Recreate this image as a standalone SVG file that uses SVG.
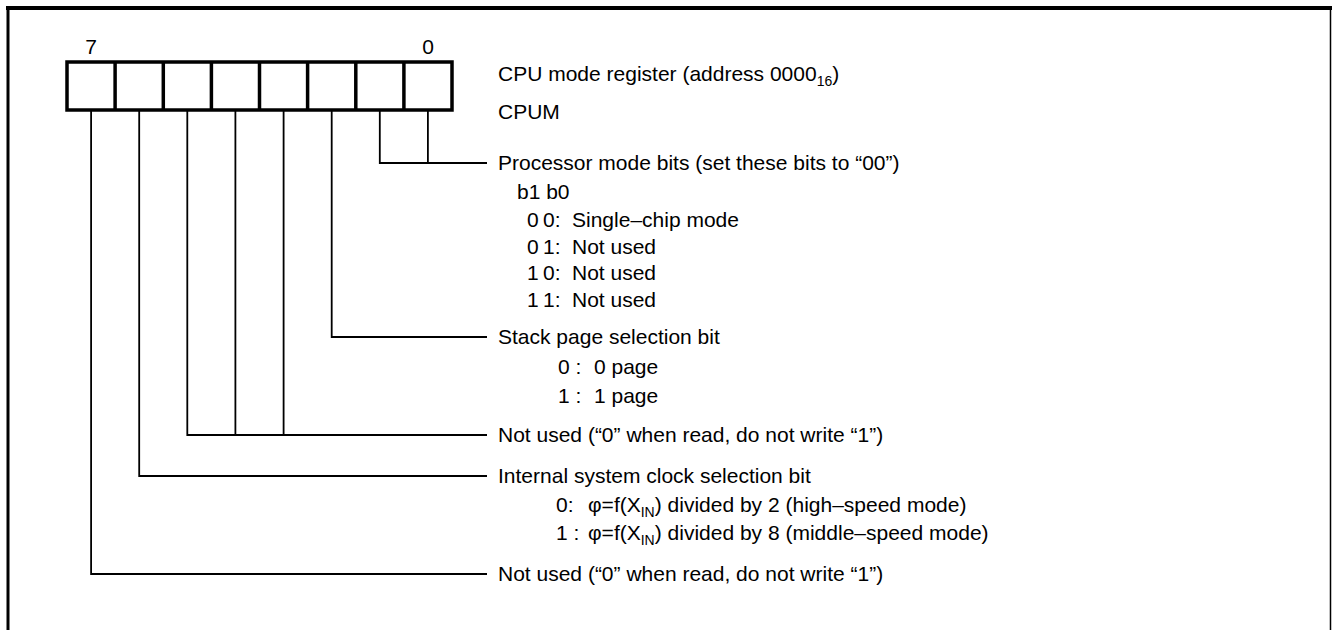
<svg xmlns="http://www.w3.org/2000/svg" width="1332" height="630" viewBox="0 0 1332 630">
<style>
.t{font-family:"Liberation Sans",Arial,sans-serif;font-size:21px;fill:#000}
.sub{font-size:14px}
.c{fill:none;stroke:#000;stroke-width:1.8}
.reg{fill:#fff;stroke:#000;stroke-width:3.5}
</style>
<rect width="1332" height="630" fill="#fff"/>
<g id="frame" fill="none" stroke="#000">
<line x1="6" y1="8" x2="1332" y2="8" stroke-width="4"/>
<line x1="8" y1="6" x2="8" y2="630" stroke-width="3"/>
<line x1="1330.5" y1="8" x2="1330.5" y2="630" stroke-width="1.5"/>
</g>
<g id="register">
<rect class="reg" x="67" y="62" width="385" height="48"/>
<g stroke="#000" stroke-width="3.5">
<line x1="115.1" y1="62" x2="115.1" y2="110"/>
<line x1="163.3" y1="62" x2="163.3" y2="110"/>
<line x1="211.4" y1="62" x2="211.4" y2="110"/>
<line x1="259.5" y1="62" x2="259.5" y2="110"/>
<line x1="307.6" y1="62" x2="307.6" y2="110"/>
<line x1="355.8" y1="62" x2="355.8" y2="110"/>
<line x1="403.9" y1="62" x2="403.9" y2="110"/>
</g>
<text class="t" x="91" y="54" text-anchor="middle">7</text>
<text class="t" x="428" y="54" text-anchor="middle">0</text>
</g>
<g id="title">
<text class="t" x="498" y="81">CPU mode register (address 0000<tspan class="sub" dy="5">16</tspan><tspan dy="-5">)</tspan></text>
<text class="t" x="498" y="119">CPUM</text>
</g>
<g id="connectors">
<polyline class="c" points="379.8,110 379.8,163 487,163"/>
<line class="c" x1="427.9" y1="110" x2="427.9" y2="163"/>
<polyline class="c" points="331.7,110 331.7,337 487,337"/>
<polyline class="c" points="187.3,110 187.3,435 487,435"/>
<line class="c" x1="235.4" y1="110" x2="235.4" y2="435"/>
<line class="c" x1="283.6" y1="110" x2="283.6" y2="435"/>
<polyline class="c" points="139.2,110 139.2,476 487,476"/>
<polyline class="c" points="91.1,110 91.1,574 487,574"/>
</g>
<g id="processor-mode">
<text class="t" x="498" y="170">Processor mode bits (set these bits to “00”)</text>
<text class="t" x="517" y="199">b1 b0</text>
<text class="t" y="227"><tspan x="527">0</tspan><tspan x="543">0:</tspan><tspan x="572">Single–chip mode</tspan></text>
<text class="t" y="254"><tspan x="527">0</tspan><tspan x="543">1:</tspan><tspan x="572">Not used</tspan></text>
<text class="t" y="280"><tspan x="527">1</tspan><tspan x="543">0:</tspan><tspan x="572">Not used</tspan></text>
<text class="t" y="307"><tspan x="527">1</tspan><tspan x="543">1:</tspan><tspan x="572">Not used</tspan></text>
</g>
<g id="stack-page">
<text class="t" x="498" y="344">Stack page selection bit</text>
<text class="t" y="374"><tspan x="558">0 :</tspan><tspan x="594">0 page</tspan></text>
<text class="t" y="403"><tspan x="558">1 :</tspan><tspan x="594">1 page</tspan></text>
</g>
<g id="not-used-5-3">
<text class="t" x="498" y="442">Not used (“0” when read, do not write “1”)</text>
</g>
<g id="clock-select">
<text class="t" x="498" y="483">Internal system clock selection bit</text>
<text class="t" y="512"><tspan x="556">0:</tspan><tspan x="588">φ=f(X</tspan><tspan class="sub" dy="5">IN</tspan><tspan dy="-5">) divided by 2 (high–speed mode)</tspan></text>
<text class="t" y="540"><tspan x="556">1 :</tspan><tspan x="588">φ=f(X</tspan><tspan class="sub" dy="5">IN</tspan><tspan dy="-5">) divided by 8 (middle–speed mode)</tspan></text>
</g>
<g id="not-used-7">
<text class="t" x="498" y="581">Not used (“0” when read, do not write “1”)</text>
</g>
</svg>
